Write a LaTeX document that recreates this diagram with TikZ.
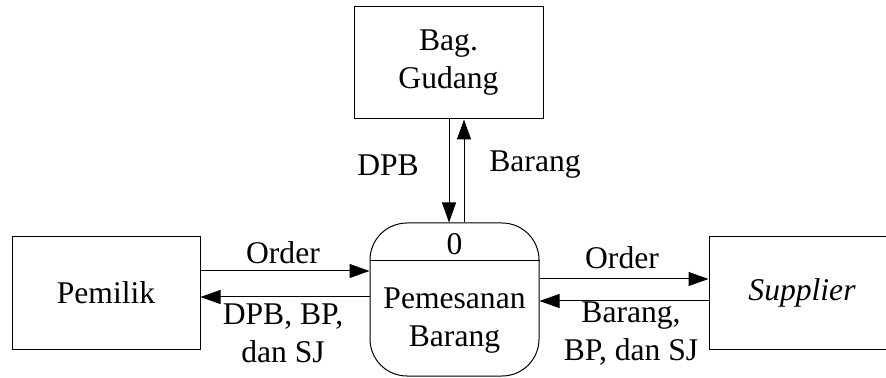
\documentclass[tikz,border=0pt]{standalone}
\usepackage{fontspec}
\setmainfont{Liberation Serif}
\usetikzlibrary{arrows.meta,calc}
\begin{document}
\begin{tikzpicture}[x=0.5pt,y=-0.5pt,
  every node/.style={font=\fontsize{15.8}{19}\selectfont, inner sep=0pt},
  entity/.style={draw, line width=0.5pt, minimum width=#1*0.5pt, minimum height=56pt, align=center},
  process/.style={draw, line width=0.5pt, rounded corners=18.5pt, minimum width=84.5pt, minimum height=76.5pt},
  flow/.style={line width=0.5pt, -{Triangle[length=10pt,width=7pt]}},
  lbl/.style={align=center}]
\useasboundingbox (0,0) rectangle (886,378);
\clip (0,0) rectangle (886,378);

% external entities and warehouse
\node[entity=189] (gudang) at (448.5,63) {Bag.\\Gudang};
\node[entity=188] (pemilik) at (106,293) {Pemilik};
\node[entity=186] (supplier) at (802,293) {\itshape Supplier};

% process 0
\node[process] (proc) at (454.5,299.5) {};
\draw[line width=0.5pt] ($(proc.west)+(0,-38.5)$) coordinate (d1) -- (d1 -| proc.east);
\node (pnum) at (454.5,244) {0};
\node[lbl] (pname) at (454.5,321) {Pemesanan\\Barang};

% flows between Pemilik and process
\draw[flow] ($(pemilik.east)+(0,-22)$) coordinate (a1) -- (a1 -| proc.west);
\draw[flow] ($(proc.west)+(0,-2.5)$) coordinate (a2) -- (a2 -| pemilik.east);

% flows between process and Supplier
\draw[flow] ($(proc.east)+(0,-20.5)$) coordinate (b1) -- (b1 -| supplier.west);
\draw[flow] ($(supplier.west)+(0,8)$) coordinate (b2) -- (b2 -| proc.east);

% flows between Bag. Gudang and process
\draw[flow] ($(gudang.south)+(0.5,0)$) coordinate (c1) -- (c1 |- proc.north);
\draw[flow] ($(proc.north)+(9.5,0)$) coordinate (c2) -- (c2 |- gudang.south);

% flow labels
\node[lbl] (ldpb) at (388,165) {DPB};
\node[lbl] (lbrg) at (535,165) {Barang};
\node[lbl] (lord1) at (283,253) {Order};
\node[lbl] (lret1) at (283,333) {DPB, BP,\\dan SJ};
\node[lbl] (lord2) at (622,258) {Order};
\node[lbl] (lret2) at (631,334) {Barang,\\BP, dan SJ};
\end{tikzpicture}
\end{document}
